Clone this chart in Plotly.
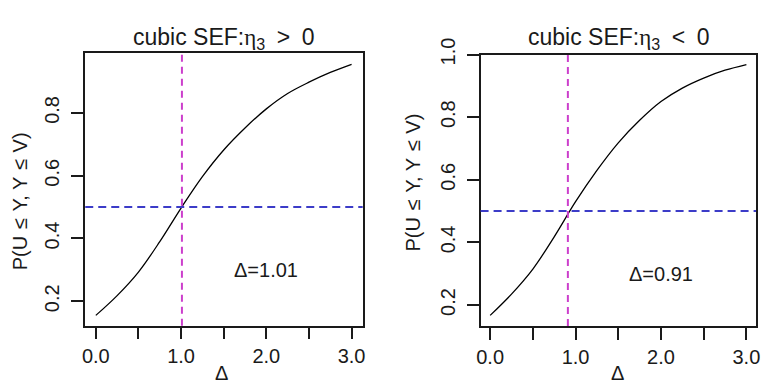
import plotly.graph_objects as go

# ---- data ----
delta_grid = [0.0, 0.25, 0.5, 0.75, 1.0, 1.25, 1.5, 1.75, 2.0, 2.25, 2.5, 2.75, 3.0]
prob_pos = [0.155, 0.218, 0.293, 0.390, 0.497, 0.597, 0.682, 0.752, 0.813, 0.862, 0.898, 0.929, 0.955]
prob_neg = [0.167, 0.235, 0.315, 0.418, 0.530, 0.630, 0.718, 0.790, 0.850, 0.893, 0.925, 0.950, 0.968]
delta_pos = 1.01
delta_neg = 0.91
hline_level = 0.5
titles = ["cubic SEF:<span style='font-family:Liberation Serif'>η</span><sub>3</sub>\u2002>\u20020",
          "cubic SEF:<span style='font-family:Liberation Serif'>η</span><sub>3</sub>\u2002<\u20020"]
notes = ["Δ=1.01", "Δ=0.91"]
note_pos = (2.0, 0.3)
ylabel = "P(U\u2004≤\u2004Y, Y\u2004≤\u2004V)"
xlabel = "Δ"

W, H = 763, 385
FONT = "Liberation Sans, Arial, sans-serif"
BLUE = "#3c3cc8"
MAG = "#cc3fcc"
INK = "#1a1a1a"

def px(x):
    return x / W

def py(y):
    return 1 - y / H

fig = go.Figure()
fig.add_trace(go.Scatter(x=delta_grid, y=prob_pos, mode="lines",
                         line=dict(color="black", width=1.3, shape="spline", smoothing=1.0),
                         xaxis="x", yaxis="y"))
fig.add_trace(go.Scatter(x=delta_grid, y=prob_neg, mode="lines",
                         line=dict(color="black", width=1.3, shape="spline", smoothing=1.0),
                         xaxis="x2", yaxis="y2"))

axis_common = dict(showgrid=False, zeroline=False, showline=True, mirror=True,
                   linecolor=INK, linewidth=1.5, ticks="outside", ticklen=12,
                   tickwidth=1.5, tickcolor=INK, tickformat=".1f",
                   tickfont=dict(family=FONT, size=20, color=INK))
minor_x = dict(dtick=0.5, tick0=0, ticks="outside", ticklen=12, tickwidth=1.5,
               tickcolor=INK, showgrid=False)

fig.update_layout(
    width=W, height=H, margin=dict(l=0, r=0, t=0, b=0, pad=0), autosize=False,
    paper_bgcolor="white", plot_bgcolor="white", showlegend=False,
    xaxis=dict(domain=[px(82), px(362)], range=[-0.124, 3.13], anchor="y",
               tick0=0, dtick=1, minor=minor_x, ticklabelstandoff=0, **axis_common),
    yaxis=dict(domain=[py(323), py(38)], range=[0.122, 0.99], anchor="x",
               tick0=0, dtick=0.2, tickangle=-90, ticklabelstandoff=4, **axis_common),
    xaxis2=dict(domain=[px(481), px(759)], range=[-0.112, 3.113], anchor="y2",
                tick0=0, dtick=1, minor=minor_x, ticklabelstandoff=0, **axis_common),
    yaxis2=dict(domain=[py(323.3), py(39.3)], range=[0.133, 1.0], anchor="x2",
                tick0=0, dtick=0.2, tickangle=-90, ticklabelstandoff=4, **axis_common),
)

# reference lines
for xa, ya, d in [("x", "y", delta_pos), ("x2", "y2", delta_neg)]:
    fig.add_shape(type="line", xref=xa, yref=ya + " domain", x0=d, x1=d, y0=0, y1=1,
                  line=dict(color=MAG, width=2, dash="7px,5px"))
    fig.add_shape(type="line", xref=xa + " domain", yref=ya, x0=0, x1=1,
                  y0=hline_level, y1=hline_level,
                  line=dict(color=BLUE, width=2, dash="8px,5px"))

centers = [(82 + 362) / 2, (481 + 759) / 2]
common_ann = dict(showarrow=False, xanchor="center", yanchor="middle")
for i, (xa, ya) in enumerate([("x", "y"), ("x2", "y2")]):
    fig.add_annotation(text=titles[i], x=px(centers[i]), y=py(22), xref="paper", yref="paper",
                       font=dict(family=FONT, size=23, color=INK), **common_ann)
    fig.add_annotation(text=notes[i], x=note_pos[0], y=note_pos[1], xref=xa, yref=ya,
                       font=dict(family=FONT, size=20, color=INK), **common_ann)
    fig.add_annotation(text=xlabel, x=px([220, 619][i]), y=py(372), xref="paper", yref="paper",
                       font=dict(family=FONT, size=20, color=INK), **common_ann)
    fig.add_annotation(text=ylabel, x=px([17, 413][i]), y=py([193, 173][i]),
                       xref="paper", yref="paper", textangle=-90,
                       font=dict(family=FONT, size=20, color=INK), **common_ann)

fig.write_html("out.html")
